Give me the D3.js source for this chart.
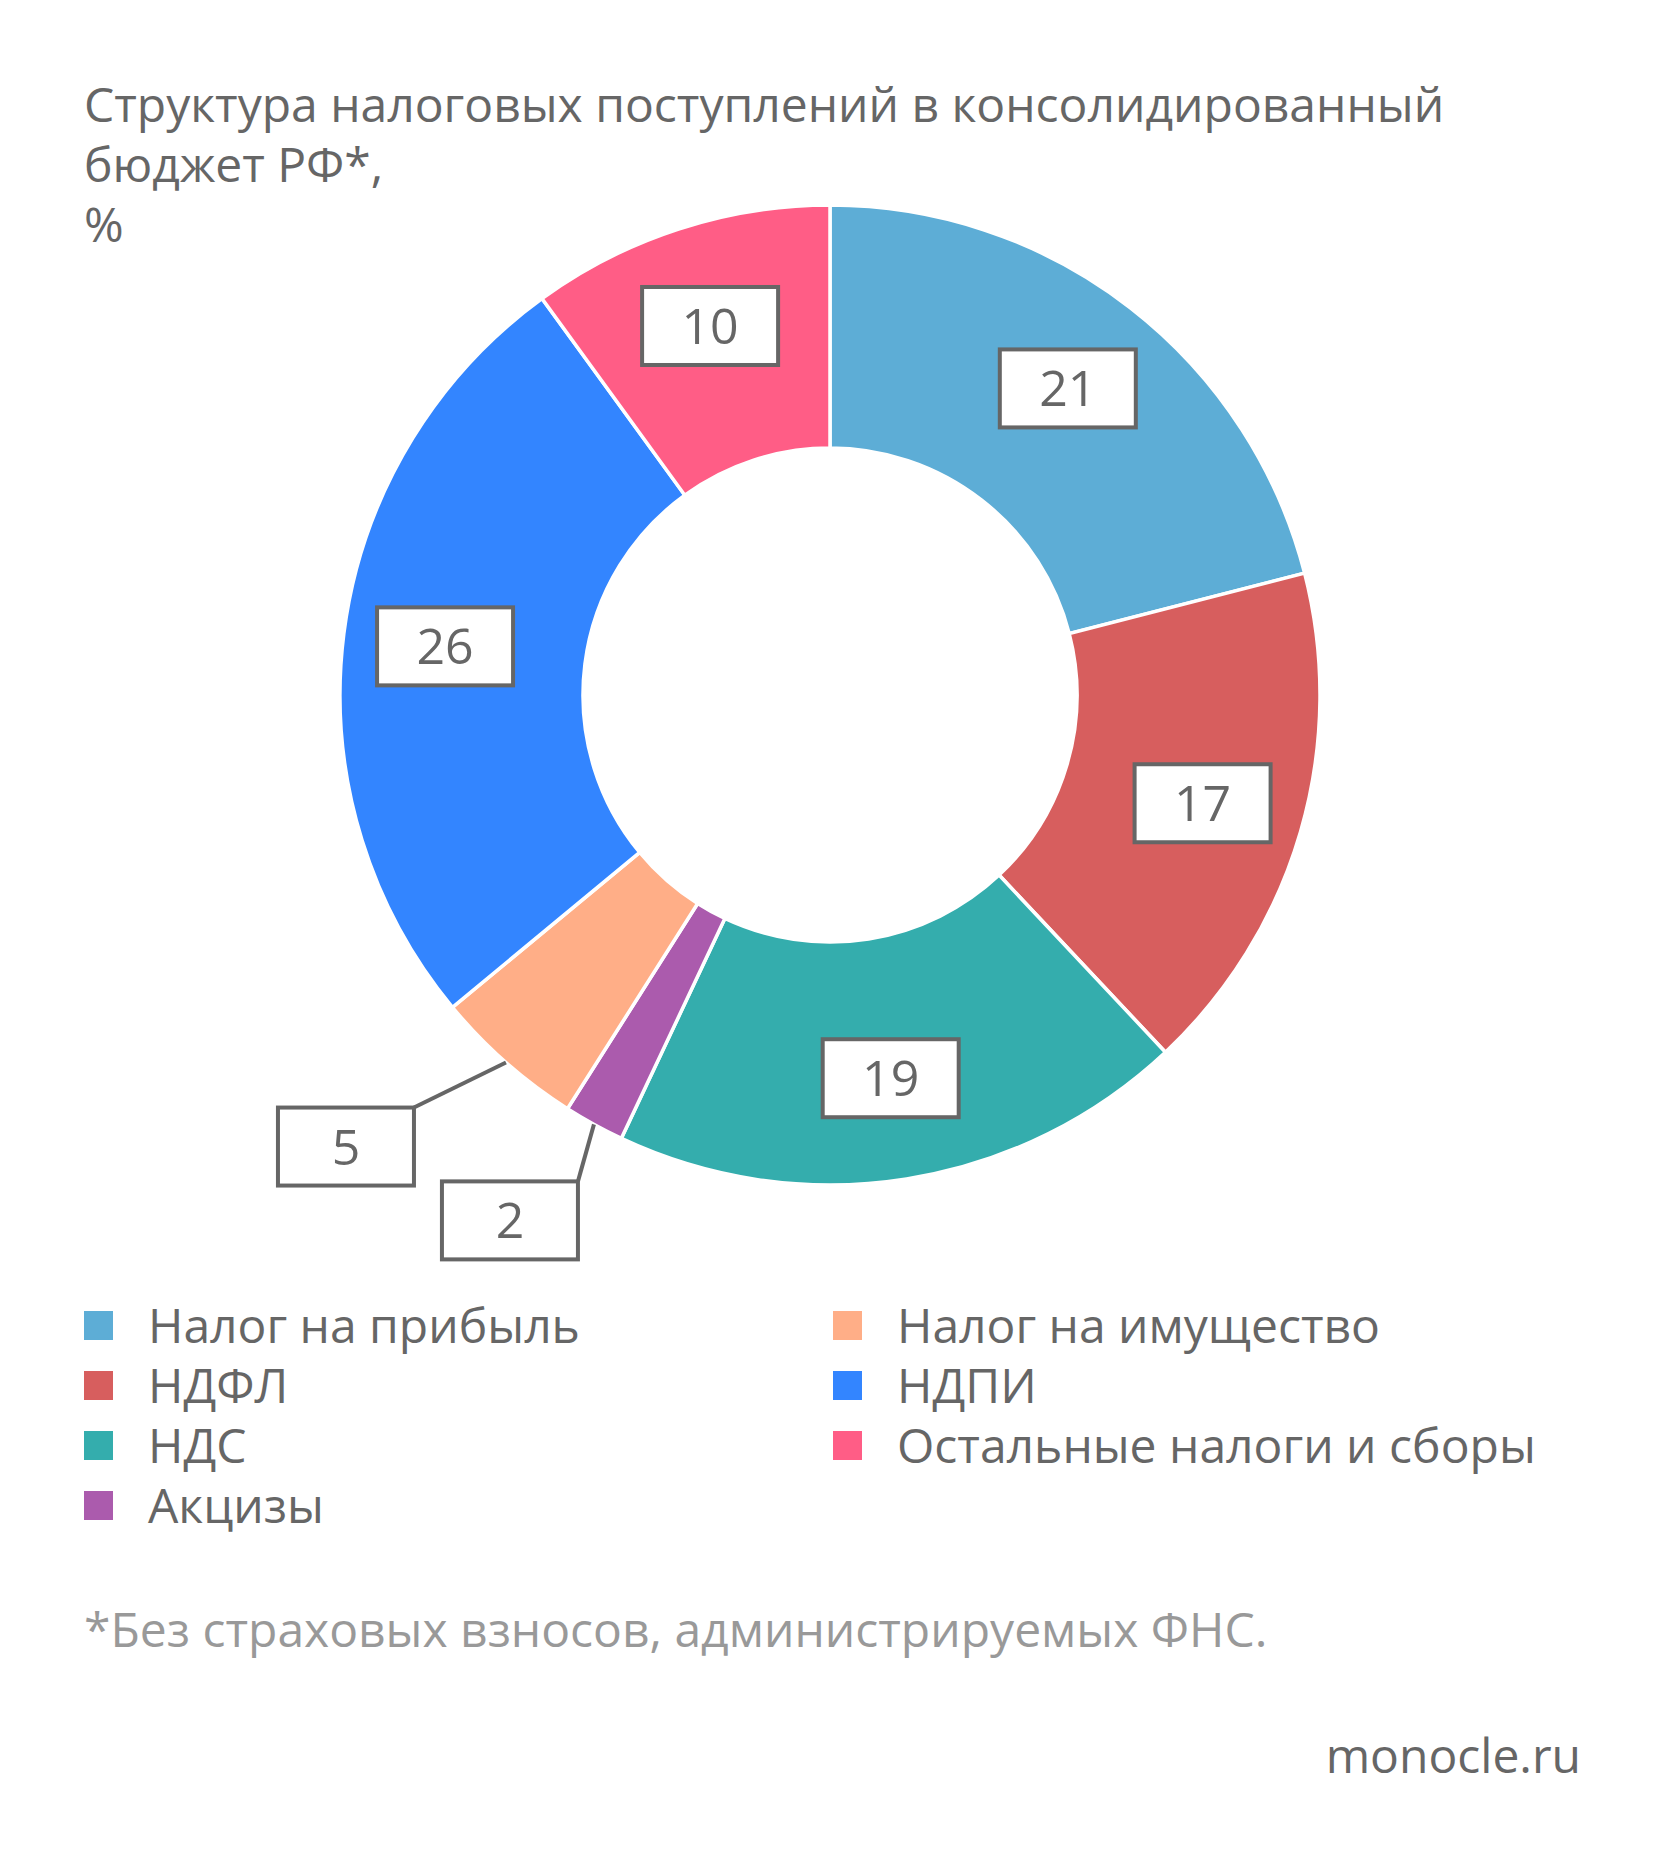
<!DOCTYPE html>
<html><head><meta charset="utf-8">
<script src="https://cdn.jsdelivr.net/npm/d3@7"></script>
<style>
html,body{margin:0;padding:0;background:#fff;}
text{font-family:"Open Sans",sans-serif;font-weight:400;}
</style></head>
<body>
<svg id="chart" width="1667" height="1859"></svg>
<script>
const categories = ["Налог на прибыль","НДФЛ","НДС","Акцизы","Налог на имущество","НДПИ","Остальные налоги и сборы"];
const values = [21,17,19,2,5,26,10];
const colors = ["#5DADD6","#D75E5E","#34ADAD","#AB5BAD","#FFAE87","#3385FF","#FF5D86"];
const titleLines = ["Структура налоговых поступлений в консолидированный","бюджет РФ*,","%"];
const footnote = "*Без страховых взносов, администрируемых ФНС.";
const source = "monocle.ru";

const svg = d3.select("#chart");
const cx = 830, cy = 695, rOuter = 490, rInner = 247, rLabel = 388;
const ink = "#666666";

// title
svg.append("g").selectAll("text").data(titleLines).join("text")
  .attr("x", 84).attr("y", (d,i)=>122 + i*60)
  .attr("font-size", 48).attr("fill", ink).text(d=>d);

// pie
const pie = d3.pie().sort(null).value(d=>d.v);
const data = categories.map((c,i)=>({c, v:values[i], col:colors[i]}));
const arcs = pie(data);
const arc = d3.arc().innerRadius(rInner).outerRadius(rOuter);
const labelArc = d3.arc().innerRadius(rLabel).outerRadius(rLabel);
const edgeArc = d3.arc().innerRadius(rOuter).outerRadius(rOuter);

const g = svg.append("g").attr("transform", `translate(${cx},${cy})`);
g.selectAll("path").data(arcs).join("path")
  .attr("d", arc).attr("fill", d=>d.data.col)
  .attr("stroke", "#fff").attr("stroke-width", 3.5);

const boxW = 136, boxH = 78;
// outside label placement (offset of box top-right corner from outer-edge point)
const outsideOffset = {"Акцизы":[-16,57], "Налог на имущество":[-92,45]};

arcs.forEach(a=>{
  let bx, by;
  const off = outsideOffset[a.data.c];
  if (off) {
    const [ex, ey] = edgeArc.centroid(a);
    const tx = ex + off[0], ty = ey + off[1];
    g.append("line").attr("x1", ex).attr("y1", ey).attr("x2", tx).attr("y2", ty)
      .attr("stroke", ink).attr("stroke-width", 4);
    bx = tx - boxW/2; by = ty + boxH/2;
  } else {
    [bx, by] = labelArc.centroid(a);
  }
  g.append("rect").attr("x", bx - boxW/2).attr("y", by - boxH/2)
    .attr("width", boxW).attr("height", boxH)
    .attr("fill", "#fff").attr("stroke", ink).attr("stroke-width", 4);
  g.append("text").attr("x", bx).attr("y", by + 18)
    .attr("text-anchor", "middle").attr("font-size", 50).attr("font-weight", 300).attr("fill", ink)
    .text(a.data.v);
});

// legend
const leg = svg.append("g");
data.forEach((d,i)=>{
  const col = i < 4 ? 0 : 1;
  const row = i < 4 ? i : i - 4;
  const x = col === 0 ? 84 : 833;
  const y = 1311 + row*60;
  leg.append("rect").attr("x", x).attr("y", y).attr("width", 29).attr("height", 29).attr("fill", d.col);
  leg.append("text").attr("x", x + 64).attr("y", y + 32)
    .attr("font-size", 48).attr("fill", ink).text(d.c);
});

svg.append("text").attr("x", 84).attr("y", 1647).attr("font-size", 48).attr("fill", "#999999").text(footnote);
svg.append("text").attr("x", 1581).attr("y", 1773).attr("text-anchor","end").attr("font-size", 48).attr("fill", ink).text(source);
</script>
</body></html>
